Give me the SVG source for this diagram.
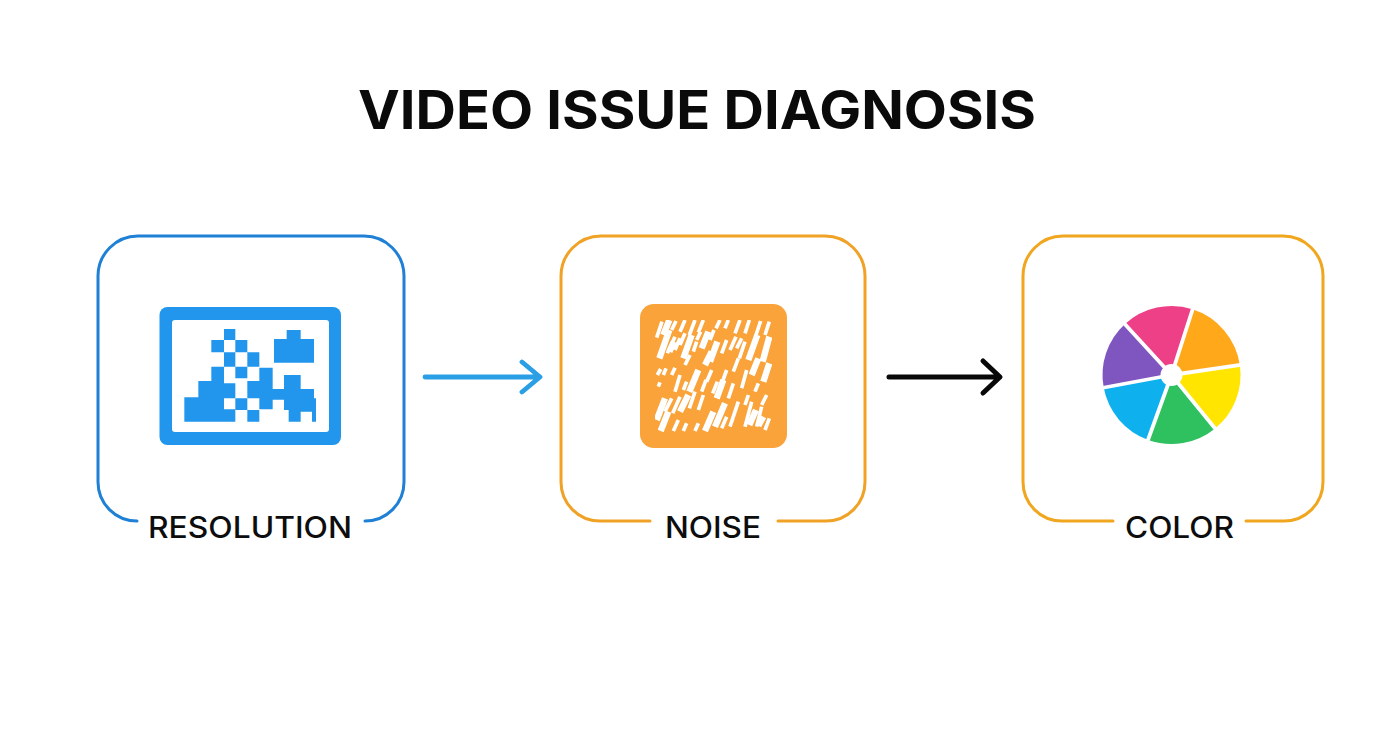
<svg xmlns="http://www.w3.org/2000/svg" width="1392" height="752" viewBox="0 0 1392 752">
<style>
.title{font-family:Inter,"Liberation Sans",sans-serif;font-weight:700;font-size:53px;fill:#0a0a0a}
.label{font-family:Inter,"Liberation Sans",sans-serif;font-weight:500;font-size:29.500px;fill:#0d0d0d}
.card{fill:none;stroke-width:3;stroke-linecap:round}
.conn{fill:none;stroke-linecap:round;stroke-linejoin:round}
.gap{fill:none;stroke:#fff;stroke-width:3.800}
</style>
<defs><clipPath id="noiseClip"><rect x="655" y="320" width="117" height="113"/></clipPath></defs>
<rect width="1392" height="752" fill="#fff"/>
<text id="title" class="title" x="358" y="129" textLength="678" lengthAdjust="spacingAndGlyphs">VIDEO ISSUE DIAGNOSIS</text>
<g id="resolution">
<path class="card" stroke="#1f80d6" d="M137 521A39 39 0 0 1 98 482V276A40 40 0 0 1 138 236H364A40 40 0 0 1 404 276V482A39 39 0 0 1 365 521"/>
<rect x="159.500" y="307" width="181.500" height="138" rx="8" fill="#2196ec"/>
<rect x="172" y="320" width="157" height="112" rx="3" fill="#fff"/>
<g transform="translate(150 295) scale(.33333)" fill="#2196ec">
<path d="M222 102h34v33h-34zM184 135h38v37h-38zM256 135h36v37h-36zM222 172h34v43h-34zM292 172h36v43h-36zM256 215h36v35h-36zM256 310h36v35h-36zM292 345h36v35h-36z"/>
<path d="M103 307H145V258H184V215H222V265H256V380H103ZM222 310V343H256V310Z" fill-rule="evenodd"/>
<path d="M292 258H328V218H368V282H402V240H452V282H492V310H498V380H486V350H452V380H416V345H402V314H368V343H328V310H292Z"/>
<path d="M372 132h38v-27h42v27h40v71H372z"/>
</g>
<text class="label" x="148" y="538" textLength="204" lengthAdjust="spacingAndGlyphs">RESOLUTION</text>
</g>
<g id="noise">
<path class="card" stroke="#f0a226" d="M650 521H600A39 39 0 0 1 561 482V276A40 40 0 0 1 601 236H825A40 40 0 0 1 865 276V482A39 39 0 0 1 826 521H778"/>
<rect x="640" y="304" width="147" height="144" rx="14" fill="#f9a33a"/>
<g clip-path="url(#noiseClip)"><g transform="translate(630 295) scale(.33333)" fill="none" stroke="#fff" stroke-width="11">
<path d="M80 128L96 80M125 105L138 78M150 110L165 75M178 120L195 75M205 112L220 75M258 100L270 75M285 100L295 75M315 115L330 75M345 115L358 75M378 120L392 78M405 120L418 80M112 175L135 125M135 165L150 130M190 170L200 140M275 175L290 135M300 165L318 125M328 190L345 140M82 240L92 222M100 240L108 220M85 275L90 262M135 290L150 240M165 210L180 180M230 260L245 225M270 280L290 225M310 230L325 190M335 280L350 225M375 290L385 265M105 350L125 310M128 355L150 305M178 340L195 290M205 345L220 300M130 408L145 375M160 408L170 385M195 408L205 385M300 395L325 320M345 395L365 320M380 395L395 335M405 405L418 370M345 330L355 300M295 310L310 265M125 240L135 218M200 135L212 110M240 135L252 105M150 150L165 115M248 295L262 260M215 290L228 255M320 160L335 130M160 285L170 260M395 330L410 300M275 400L290 365"/>
<path stroke-width="19" d="M100 120L118 75M88 190L118 105M160 190L185 120M215 160L235 110M240 200L262 140M355 195L382 120M398 200L418 125M178 290L205 225M225 210L245 170M365 240L385 190M400 260L418 205M80 375L105 310M150 350L175 300M92 408L115 350M225 408L250 350M255 395L285 325M260 310L280 255M358 390L378 345M118 170L132 140M385 392L400 365"/>
</g></g>
<text class="label" x="665" y="538" textLength="96" lengthAdjust="spacingAndGlyphs">NOISE</text>
</g>
<g id="color">
<path class="card" stroke="#f0a61e" d="M1113 521H1062A39 39 0 0 1 1023 482V276A40 40 0 0 1 1063 236H1283A40 40 0 0 1 1323 276V482A39 39 0 0 1 1284 521H1246"/>
<path fill="#ee4086" d="M1171.500 375L1125 324A69 69 0 0 1 1192.600 309.300Z"/>
<path fill="#ffa81a" d="M1171.500 375L1192.600 309.300A69 69 0 0 1 1239.800 365Z"/>
<path fill="#ffe500" d="M1171.500 375L1239.800 365A69 69 0 0 1 1215.100 428.500Z"/>
<path fill="#2fc060" d="M1171.500 375L1215.100 428.500A69 69 0 0 1 1148.100 439.900Z"/>
<path fill="#0fb0ee" d="M1171.500 375L1148.100 439.900A69 69 0 0 1 1103.700 387.600Z"/>
<path fill="#7f55c0" d="M1171.500 375L1103.700 387.600A69 69 0 0 1 1125 324Z"/>
<path class="gap" d="M1171.500 375L1194 305M1171.500 375L1244 364.300M1171.500 375L1218 432M1171.500 375L1146.500 444M1171.500 375L1099 388.500M1171.500 375L1122 321"/>
<circle cx="1171.500" cy="375" r="11" fill="#fff"/>
<text class="label" x="1125" y="538" textLength="109" lengthAdjust="spacingAndGlyphs">COLOR</text>
</g>
<g id="connectors">
<path class="conn" stroke="#2a9fe6" stroke-width="4.800" d="M425 377H539M522 362L540 377L522 392"/>
<path class="conn" stroke="#080808" stroke-width="5" d="M889 377H999M983 361L1000 377L983 393"/>
</g>
</svg>
